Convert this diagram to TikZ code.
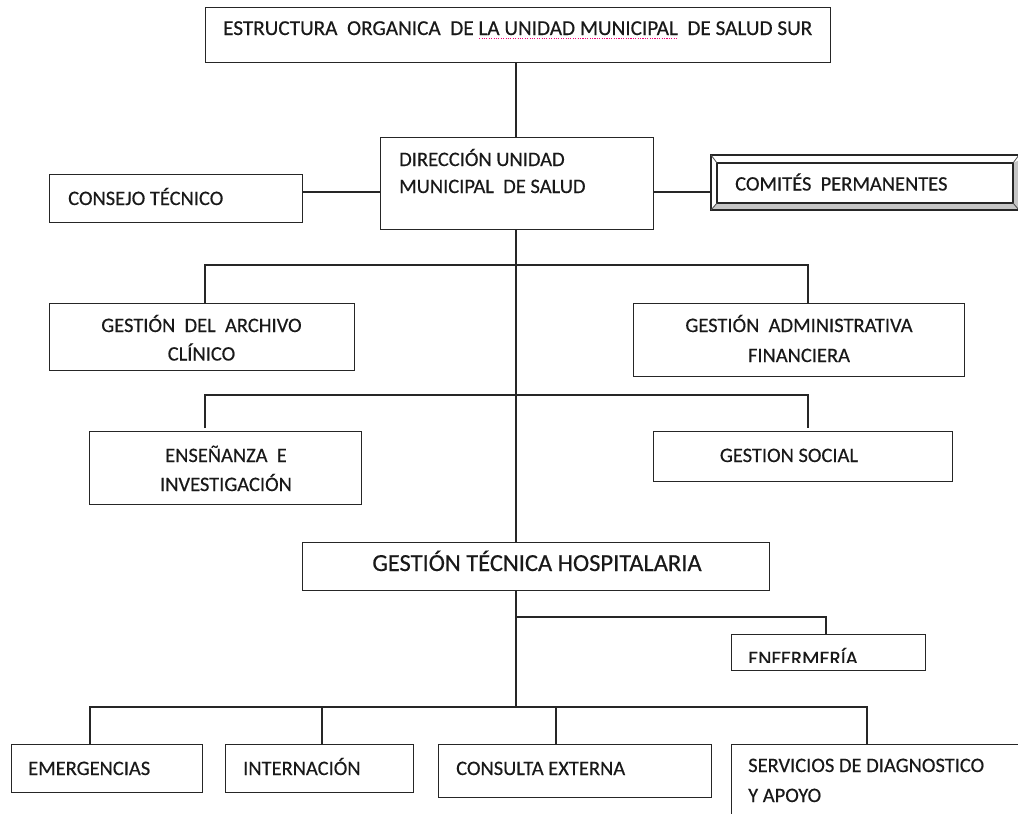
\documentclass[tikz,border=0pt]{standalone}
\usepackage{fontspec}
\setmainfont{Carlito}[FakeBold=0.35]
% dotted magenta marker under a run of words
\newcommand\dotmark[1]{\setbox0\hbox{#1}\rlap{\raisebox{-3.6pt}{\textcolor{magenta!80!red}{\hbox to \wd0{\xleaders\hbox to 2.4pt{\hss\rule{1.1pt}{1pt}\hss}\hfill}}}}\box0}
\begin{document}
\begin{tikzpicture}[x=1pt,y=-1pt,
  box/.style={draw=black!85, line width=1.4pt, fill=white, inner sep=0pt, anchor=north west},
  link/.style={draw=black!85, line width=1.4pt},
  lbl/.style={font=\fontsize{20.5}{28}\selectfont, inner sep=0pt, text=black!90},
  head/.style={font=\fontsize{21.2}{28}\selectfont, inner sep=0pt, text=black!90},
  big/.style={font=\fontsize{24.5}{28}\selectfont, inner sep=0pt, text=black!90},
]
\clip (0,0) rectangle (1018,814);
\fill[white] (0,0) rectangle (1018,814);

% ---------- boxes ----------
\node[box, minimum width=625pt, minimum height=55pt] (title) at (205,7) {};
\node[box, minimum width=273pt, minimum height=92pt] (dir) at (380,137) {};
\node[box, minimum width=253pt, minimum height=48pt] (consejo) at (49,174) {};
\node[box, minimum width=305pt, minimum height=67pt] (archivo) at (49,303) {};
\node[box, minimum width=331pt, minimum height=73pt] (admin) at (633,303) {};
\node[box, minimum width=272pt, minimum height=73pt] (ense) at (89,431) {};
\node[box, minimum width=299pt, minimum height=50pt] (social) at (653,431) {};
\node[box, minimum width=467pt, minimum height=48pt] (gth) at (302,542) {};
\node[box, minimum width=194pt, minimum height=36pt] (enf) at (731,634) {};
\node[box, minimum width=191pt, minimum height=48pt] (emer) at (11,744) {};
\node[box, minimum width=188pt, minimum height=48pt] (inter) at (225,744) {};
\node[box, minimum width=273pt, minimum height=53pt] (consulta) at (438,744) {};
\node[box, minimum width=320pt, minimum height=90pt] (serv) at (731,744) {};

% ---------- framed box with bevel ----------
\node[box, line width=1.1pt, minimum width=320pt, minimum height=55pt] (comites) at (711,155) {};
\fill[gray!45] (717,203) -- (1013,203) -- (1013,163) -- (1031,155) -- (1031,210) -- (711,210) -- cycle;
\draw[black!85, line width=1.1pt] (717,163) rectangle (1013,203);
\draw[black!85, line width=1.1pt] (711,155) rectangle (1031,210);
\draw[black!70, line width=0.8pt] (711,155) -- (717,163) (711,210) -- (717,203) (1013,203) -- (1019,210) (1013,163) -- (1019,155);

% ---------- texts ----------
\node[head, anchor=base west] (title-t) at (223,35) {ESTRUCTURA\ \ ORGANICA\ \ DE \dotmark{LA UNIDAD MUNICIPAL}\ \ DE SALUD SUR};
\node[lbl, anchor=base west] (dir-t) at (399,166) {\begin{tabular}[t]{@{}l@{}}DIRECCIÓN UNIDAD\\[-1pt] MUNICIPAL\ \ DE SALUD\end{tabular}};
\node[lbl, anchor=base west] (consejo-t) at (68,205) {CONSEJO TÉCNICO};
\node[lbl, anchor=base west] (comites-t) at (735,190.5) {COMITÉS\ \ PERMANENTES};
\node[lbl, anchor=base] (archivo-t) at (201.5,332) {\begin{tabular}[t]{@{}c@{}}GESTIÓN\ \ DEL\ \ ARCHIVO\\[0.5pt] CLÍNICO\end{tabular}};
\node[lbl, anchor=base] (admin-t) at (799,332) {\begin{tabular}[t]{@{}c@{}}GESTIÓN\ \ ADMINISTRATIVA\\[2pt] FINANCIERA\end{tabular}};
\node[lbl, anchor=base] (ense-t) at (226,462) {\begin{tabular}[t]{@{}c@{}}ENSEÑANZA\ \ E\\[1pt] INVESTIGACIÓN\end{tabular}};
\node[lbl, anchor=base] (social-t) at (789,462) {GESTION SOCIAL};
\node[big, anchor=base] (gth-t) at (537,571) {GESTIÓN TÉCNICA HOSPITALARIA};
\begin{scope}
  \clip (731,634) rectangle (925,662.5);
  \node[lbl, anchor=base west] (enf-t) at (748,665) {ENFERMERÍA};
\end{scope}
\node[lbl, anchor=base west] (emer-t) at (28,775) {EMERGENCIAS};
\node[lbl, anchor=base west] (inter-t) at (243,775) {INTERNACIÓN};
\node[lbl, anchor=base west] (consulta-t) at (456,775) {CONSULTA EXTERNA};
\node[lbl, anchor=base west] (serv-t) at (748,772) {\begin{tabular}[t]{@{}l@{}}SERVICIOS DE DIAGNOSTICO\\[2pt] Y APOYO\end{tabular}};

% ---------- connectors ----------
\coordinate (h192) at (0,192);
\coordinate (h265) at (0,265);
\coordinate (h395) at (0,395);
\coordinate (h617) at (0,617);
\coordinate (h707) at (0,707);
\coordinate (x205) at (205,0);
\coordinate (x516) at (516,0);
\coordinate (x808) at (808,0);
\coordinate (x826) at (826,0);

\draw[link] (title.south -| x516) -- (dir.north -| x516);
\draw[link] (consejo.east |- h192) -- (dir.west |- h192);
\draw[link] (dir.east |- h192) -- (comites.west |- h192);
\draw[link] (dir.south -| x516) -- (gth.north -| x516);

\draw[link] (archivo.north -| x205) -- (x205 |- h265) -- (x808 |- h265) -- (admin.north -| x808);
\draw[link] (x205 |- 0,428) -- (x205 |- h395) -- (x808 |- h395) -- (x808 |- 0,428);

\draw[link] (gth.south -| x516) -- (x516 |- h707);
\draw[link] (x516 |- h617) -- (x826 |- h617) -- (enf.north -| x826);
\draw[link] (emer.north -| 90,0) -- (90,707) -- (867,707) -- (serv.north -| 867,0);
\draw[link] (322,707) -- (inter.north -| 322,0);
\draw[link] (556,707) -- (consulta.north -| 556,0);

\useasboundingbox (0,0) rectangle (1018,814);
\end{tikzpicture}
\end{document}
